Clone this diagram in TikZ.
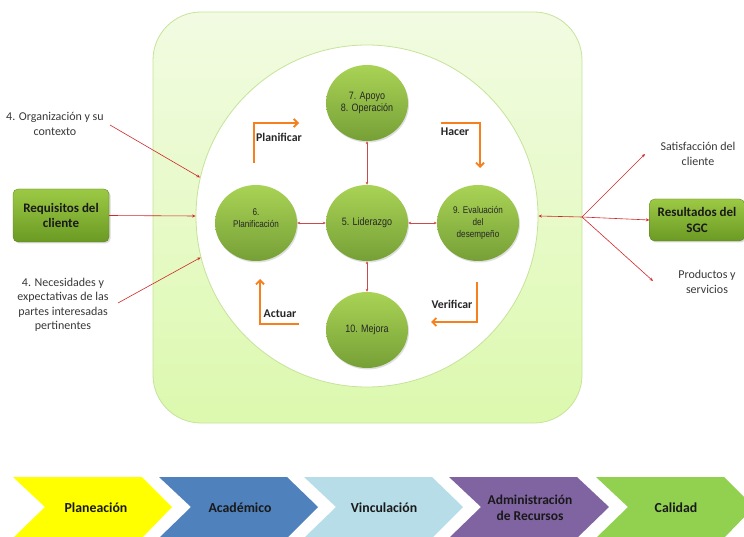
\documentclass[tikz,border=0pt]{standalone}
\usepackage{fontspec}
\setmainfont{Carlito}
\newfontfamily\narrowfont[FakeStretch=0.84]{Liberation Sans}
\usetikzlibrary{arrows.meta,shadows,shapes.geometric}
\definecolor{rectfillA}{HTML}{F2FBE2}
\definecolor{rectfillB}{HTML}{DCF9AE}
\definecolor{rectline}{HTML}{C6E39A}
\definecolor{circA}{HTML}{A9D355}
\definecolor{circB}{HTML}{76A036}
\definecolor{boxA}{HTML}{9CC944}
\definecolor{boxB}{HTML}{6B9A24}
\definecolor{redline}{HTML}{D02828}
\definecolor{innerred}{HTML}{C84A4A}
\definecolor{orangeline}{HTML}{F7801E}
\definecolor{sidetext}{HTML}{383838}
\definecolor{chYellow}{HTML}{FFFF00}
\definecolor{chBlue}{HTML}{4F81BD}
\definecolor{chLight}{HTML}{B7DDE8}
\definecolor{chPurple}{HTML}{8064A2}
\definecolor{chGreen}{HTML}{92D050}
\tikzset{
  bigc/.style={ellipse, minimum width=82pt, minimum height=76pt, inner sep=0pt,
    top color=circA, bottom color=circB, draw=none, align=center,
    font=\narrowfont\fontsize{10.7}{12.5}\selectfont, text=black!85,
    drop shadow={opacity=0.25, shadow xshift=1pt, shadow yshift=-1.5pt}},
  smallc/.style={font=\narrowfont\fontsize{9.7}{12}\selectfont},
  greenbox/.style={rounded corners=5pt, top color=boxA, bottom color=boxB,
    draw=boxB!80!black, line width=0.3pt, align=center, inner sep=0pt,
    font=\bfseries\fontsize{13}{15.5}\selectfont, text=black!90,
    drop shadow={opacity=0.3, shadow xshift=1.5pt, shadow yshift=-1.5pt}},
  sidelbl/.style={align=center, text=sidetext, font=\fontsize{12}{14.4}\selectfont, inner sep=1pt},
  cyclbl/.style={font=\bfseries\fontsize{11.8}{13}\selectfont, text=black!85, inner sep=1pt},
  redarrow/.style={draw=redline, line width=0.6pt, -{Stealth[length=3.5pt,width=3pt]}},
  innerarrow/.style={draw=innerred, line width=0.5pt, {Stealth[length=3pt,width=2.6pt]}-{Stealth[length=3pt,width=2.6pt]}},
  orangearrow/.style={draw=orangeline, line width=1.8pt, -{Straight Barb[length=4pt,width=8pt]}},
  chevlbl/.style={font=\bfseries\fontsize{13.8}{15}\selectfont, text=black!90, align=center}
}
\begin{document}
\begin{tikzpicture}[x=1pt,y=-1pt]
\useasboundingbox (0,0) rectangle (744,537);
% big rounded panel
\node[draw=rectline, line width=0.8pt, rounded corners=48pt, top color=rectfillA, bottom color=rectfillB,
  minimum width=429pt, minimum height=411pt, inner sep=0pt] (panel) at (367.5,217.5) {};
% inner white circle
\node[circle, draw=rectline, line width=0.8pt, fill=white, minimum size=342pt, inner sep=0pt] (ring) at (367,216) {};
% circles
\node[bigc] (c5) at (367,223) {5. Liderazgo};
\node[bigc] (c7) at (367,103) {7. Apoyo\\8. Operación};
\node[bigc, smallc] (c6) at (256,223) {6.\\Planificación\\[-2pt]};
\node[bigc, smallc] (c9) at (478,223) {9. Evaluación\\del\\desempeño};
\node[bigc] (c10) at (367,330) {10. Mejora};
% inner connectors
\draw[innerarrow] (c5) -- (c7);
\draw[innerarrow] (c5) -- (c6);
\draw[innerarrow] (c5) -- (c9);
\draw[innerarrow] (c5) -- (c10);
% PDCA orange arrows
\coordinate (p0) at (254,163); \coordinate (p1) at (299,123);
\draw[orangearrow] (p0) |- (p1);
\node[cyclbl] (lplan) at (279,137) {Planificar};
\coordinate (h0) at (441,123); \coordinate (h1) at (480,168);
\draw[orangearrow] (h0) -| (h1);
\node[cyclbl] (lhacer) at (455,132) {Hacer};
\coordinate (v0) at (477,282); \coordinate (v1) at (431,322);
\draw[orangearrow] (v0) |- (v1);
\node[cyclbl] (lver) at (452,304) {Verificar};
\coordinate (a0) at (299,324); \coordinate (a1) at (260,279);
\draw[orangearrow] (a0) -| (a1);
\node[cyclbl] (lact) at (280,314) {Actuar};
% left side
\node[sidelbl] (org) at (55,124) {4. Organización y su\\contexto};
\node[greenbox, minimum width=96pt, minimum height=53pt] (req) at (61,215.5) {Requisitos del\\cliente};
\node[sidelbl] (nec) at (63,305) {4. Necesidades y\\expectativas de las\\partes interesadas\\pertinentes};
\coordinate (orgs) at (110,125);
\coordinate (necs) at (118,303);
\draw[redarrow] (orgs) -- (ring.167);
\draw[redarrow] (req.east) -- (ring.west);
\draw[redarrow] (necs) -- (ring.194);
% right side
\node[greenbox, minimum width=95pt, minimum height=42pt] (res) at (697,220) {Resultados del\\SGC};
\node[sidelbl] (sat) at (698,154) {Satisfacción del\\cliente};
\node[sidelbl] (prod) at (707,282) {Productos y\\servicios};
\coordinate (j) at (582,217);
\coordinate (sate) at (645,154);
\coordinate (prode) at (653,281);
\draw[redarrow] (j) -- (ring.east);
\draw[redarrow] (j) -- (sate);
\draw[redarrow] (j) -- (res.west);
\draw[redarrow] (j) -- (prode);
% chevrons
\fill[chYellow] (13,477) -- (142,477) -- (172,507) -- (142,538) -- (13,538) -- (45,507) -- cycle;
\fill[chBlue] (159,477) -- (287,477) -- (318,507) -- (287,538) -- (159,538) -- (191,507) -- cycle;
\fill[chLight] (304,477) -- (432,477) -- (463,507) -- (432,538) -- (304,538) -- (336,507) -- cycle;
\fill[chPurple] (449,477) -- (577,477) -- (609,507) -- (577,538) -- (449,538) -- (481,507) -- cycle;
\fill[chGreen] (596,477) -- (724,477) -- (754,507) -- (724,538) -- (596,538) -- (628,507) -- cycle;
\node[chevlbl] (ch1) at (96,508) {Planeación};
\node[chevlbl] (ch2) at (240,508) {Académico};
\node[chevlbl] (ch3) at (384,508) {Vinculación};
\node[chevlbl, font=\bfseries\fontsize{13.5}{15.5}\selectfont] (ch4) at (530,508) {Administración\\de Recursos};
\node[chevlbl] (ch5) at (676,508) {Calidad};
\end{tikzpicture}
\end{document}
